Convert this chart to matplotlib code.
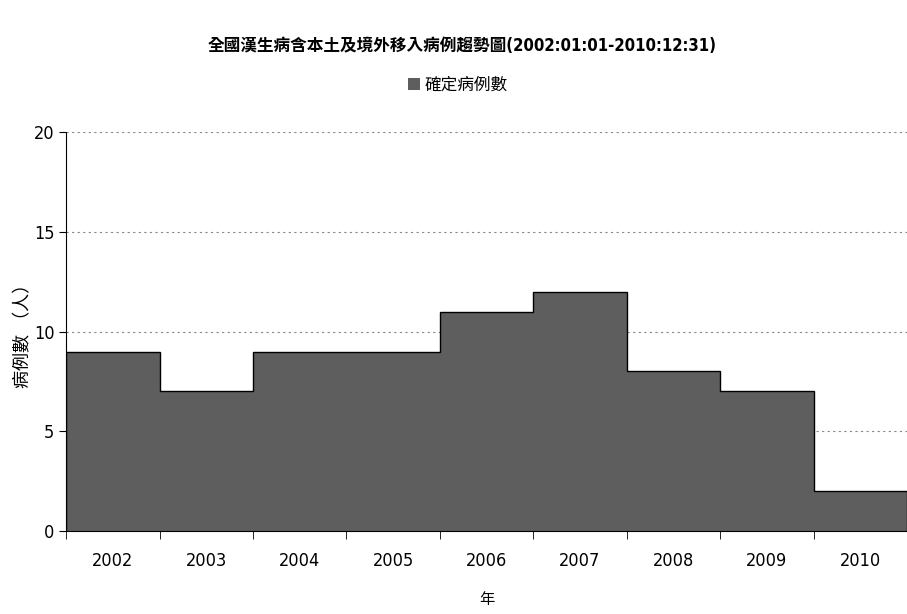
import numpy as np
import matplotlib
matplotlib.use('Agg')
import matplotlib.pyplot as plt

plt.rcParams['font.family'] = ['DejaVu Sans', 'Noto Sans CJK TC']
plt.rcParams['font.stretch'] = 'condensed'

years = ['2002', '2003', '2004', '2005', '2006', '2007', '2008', '2009', '2010']
cases = [9, 7, 9, 9, 11, 12, 8, 7, 2]
yticks = [0, 5, 10, 15, 20]

fig = plt.figure(figsize=(9.07, 6.14), dpi=100)
ax = fig.add_axes([0.073, 0.135, 0.927, 0.65])

x = np.arange(len(years))
ax.bar(x, cases, width=1.0, color='#5e5e5e', linewidth=0,
       label='確定病例數', zorder=2)
# outline of the whole bar block
ax.stairs(cases, np.arange(len(years) + 1) - 0.5, baseline=0, color='black',
          linewidth=1.0, zorder=3)

ax.set_xlim(-0.5, len(years) - 0.5)
ax.set_ylim(0, 20)
ax.set_yticks(yticks)
ax.yaxis.grid(True, linestyle=(0, (2, 3)), color='#888888', linewidth=0.8, zorder=0)
ax.set_axisbelow(True)

ax.set_xticks(x)
ax.set_xticklabels(years)
ax.set_xticks(np.arange(len(years) + 1) - 0.5, minor=True)
ax.tick_params(axis='x', which='major', length=0, pad=15, labelsize=13)
ax.tick_params(axis='x', which='minor', length=6, direction='out')
ax.tick_params(axis='y', length=5, direction='out', labelsize=13)

for s in ['top', 'right']:
    ax.spines[s].set_visible(False)

ax.set_ylabel('病例數 （人）', fontsize=13)
ax.yaxis.set_label_coords(-0.040, 0.5)
ax.set_xlabel('年', fontsize=11, labelpad=16)

fig.text(0.51, 0.925, '全國漢生病含本土及境外移入病例趨勢圖(2002:01:01-2010:12:31)',
         ha='center', va='center', fontsize=12, fontweight='bold')
fig.legend(loc='center', bbox_to_anchor=(0.505, 0.862), frameon=False, fontsize=12,
           handlelength=0.7, handleheight=0.7, handletextpad=0.3)

fig.savefig('out.png', dpi=100)
